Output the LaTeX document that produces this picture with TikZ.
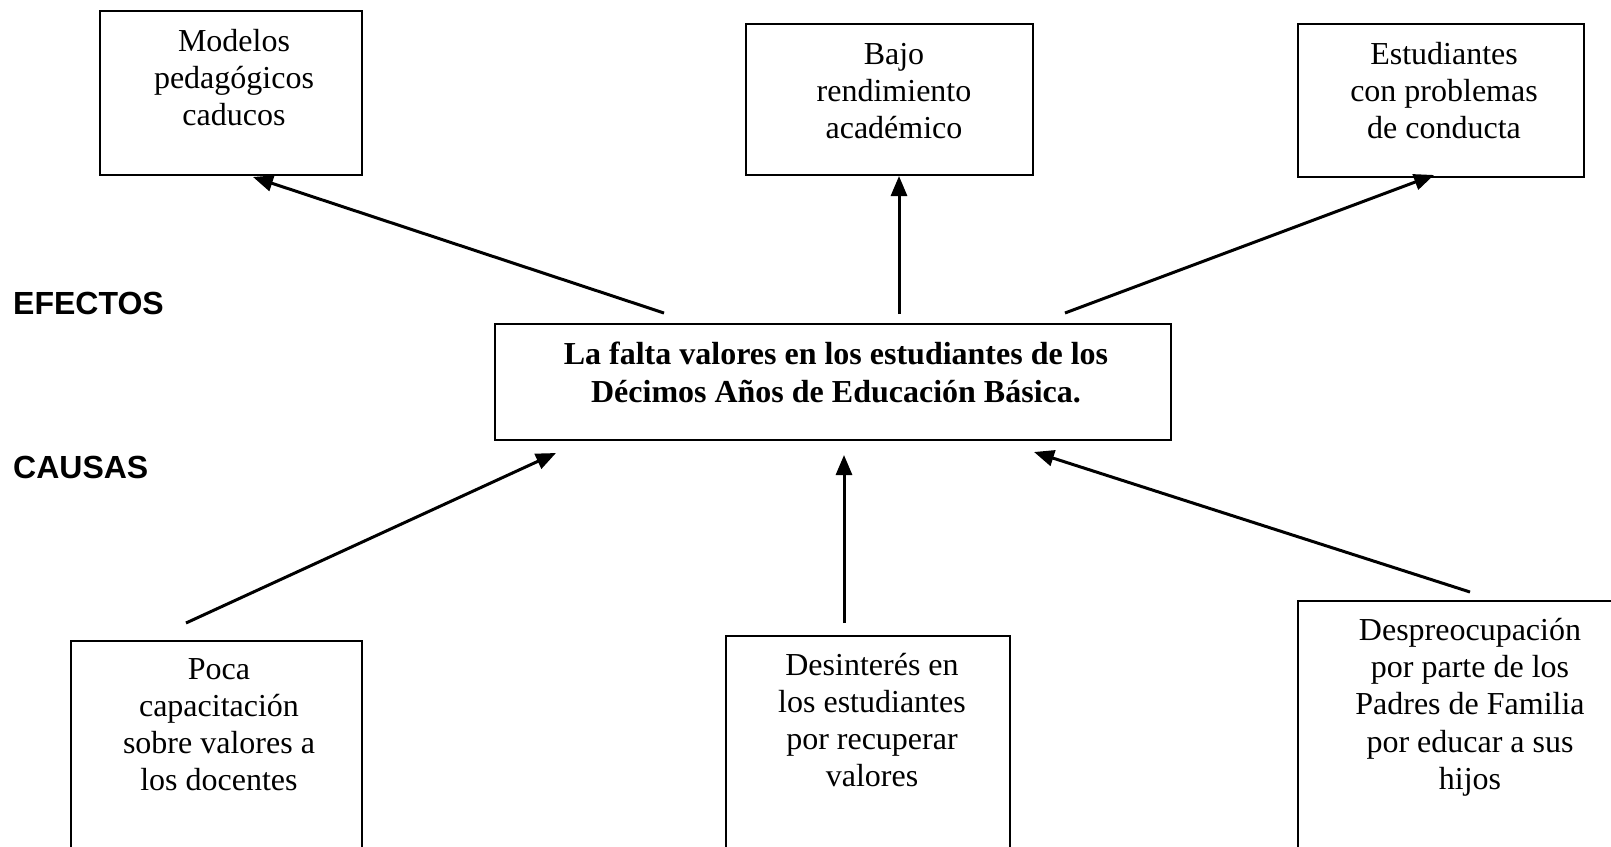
\documentclass[tikz,border=0pt]{standalone}
\usepackage{fontspec}
\setmainfont{Liberation Serif}
\newfontfamily\arialfont{Liberation Sans}
\usetikzlibrary{arrows.meta}
\begin{document}
\begin{tikzpicture}[x=1pt,y=-1pt,
  box/.style={draw, line width=1.6pt, inner sep=0pt, anchor=north west},
  txt/.style={align=center, font=\fontsize{32}{37.2}\selectfont, inner sep=0pt, anchor=north},
  arr/.style={line width=3pt, -{Triangle[length=20pt,width=16pt]}},
  lbl/.style={font=\arialfont\bfseries\fontsize{32}{37}\selectfont, anchor=base west, inner sep=0pt}]
\useasboundingbox (0,0) rectangle (1611,846);
\clip (0,0) rectangle (1611,846);
% effect boxes
\node[box, minimum width=262pt, minimum height=164pt] (b1) at (99,10) {};
\node[box, minimum width=287pt, minimum height=151pt] (b2) at (745,23) {};
\node[box, minimum width=286pt, minimum height=153pt] (b3) at (1297,23) {};
% central problem
\node[box, minimum width=676pt, minimum height=116pt] (bc) at (494,323) {};
% cause boxes
\node[box, minimum width=291pt, minimum height=240pt] (b4) at (70,640) {};
\node[box, minimum width=284pt, minimum height=240pt] (b5) at (725,635) {};
\node[box, minimum width=314pt, minimum height=270pt] (b6) at (1297,600) {};
% texts
\node[txt] (t1) at (234,28.7) {Modelos\\pedagógicos\\caducos};
\node[txt] (t2) at (894,43) {Bajo\\rendimiento\\académico};
\node[txt] (t3) at (1444,42) {Estudiantes\\con problemas\\de conducta};
\node[txt, font=\bfseries\fontsize{32}{38}\selectfont] (tc) at (836,342) {La falta valores en los estudiantes de los\\Décimos Años de Educación Básica.};
\node[txt] (t4) at (219,658) {Poca\\capacitación\\sobre valores a\\los docentes};
\node[txt] (t5) at (872,652.6) {Desinterés en\\los estudiantes\\por recuperar\\valores};
\node[txt] (t6) at (1470,618) {Despreocupación\\por parte de los\\Padres de Familia\\por educar a sus\\hijos};
% side labels
\node[lbl] (ef) at (13,314) {EFECTOS};
\node[lbl] (ca) at (13,478) {CAUSAS};
% arrow end points
\coordinate (a1s) at (664,313); \coordinate (a1e) at (253,177);
\coordinate (a2s) at (899,314); \coordinate (a2e) at (899,176);
\coordinate (a3s) at (1065,313); \coordinate (a3e) at (1434,175);
\coordinate (a4s) at (186,623); \coordinate (a4e) at (556,453);
\coordinate (a5s) at (844,623); \coordinate (a5e) at (844,455);
\coordinate (a6s) at (1470,592); \coordinate (a6e) at (1034,452);
\draw[arr] (a1s) -- (a1e);
\draw[arr] (a2s) -- (a2e);
\draw[arr] (a3s) -- (a3e);
\draw[arr] (a4s) -- (a4e);
\draw[arr] (a5s) -- (a5e);
\draw[arr] (a6s) -- (a6e);
\end{tikzpicture}
\end{document}
